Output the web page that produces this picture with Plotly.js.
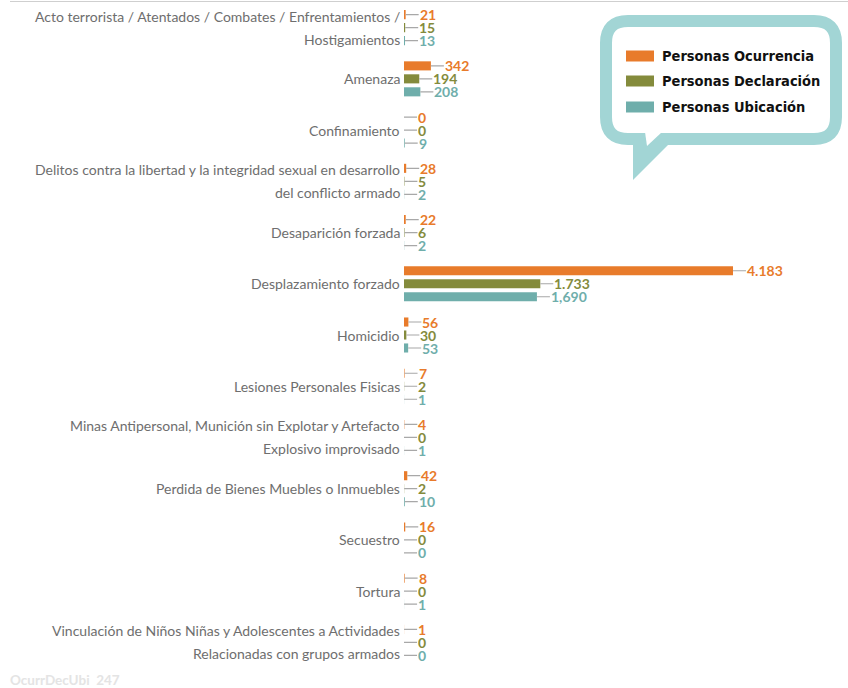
<!DOCTYPE html>
<html><head><meta charset="utf-8">
<script src="https://cdn.plot.ly/plotly-3.0.1.min.js"></script>
<style>html,body{margin:0;padding:0;background:#fff}</style>
</head><body><div id="chart" style="width:848px;height:688px"></div>
<script>
const categories = [
 "Acto terrorista / Atentados / Combates / Enfrentamientos /<br>Hostigamientos",
 "Amenaza",
 "Confinamiento",
 "Delitos contra la libertad y la integridad sexual en desarrollo<br>del conflicto armado",
 "Desaparición forzada",
 "Desplazamiento forzado",
 "Homicidio",
 "Lesiones Personales Fisicas",
 "Minas Antipersonal, Munición sin Explotar y Artefacto<br>Explosivo improvisado",
 "Perdida de Bienes Muebles o Inmuebles",
 "Secuestro",
 "Tortura",
 "Vinculación de Niños Niñas y Adolescentes a Actividades<br>Relacionadas con grupos armados"
];
const seriesNames = ["Personas Ocurrencia", "Personas Declaración", "Personas Ubicación"];
const ocurrencia  = [21, 342, 0, 28, 22, 4183, 56, 7, 4, 42, 16, 8, 1];
const declaracion = [15, 194, 0, 5, 6, 1733, 30, 2, 0, 2, 0, 0, 0];
const ubicacion   = [13, 208, 9, 2, 2, 1690, 53, 1, 1, 10, 0, 1, 0];
const thousandSep = [".", ".", ","];
const footerText = "OcurrDecUbi  247";

const colors = ["#E87B2B", "#848B3C", "#6FAEAB"];
const seriesValues = [ocurrencia, declaracion, ubicacion];

const W = 848, H = 688, ML = 404, MR = 0, MT = 2, MB = 20;
const px = x => (x - ML) / (W - ML - MR);
const py = y => (H - MB - y) / (H - MT - MB);

function fmt(v, sep) {
  const s = String(v);
  return s.replace(/\B(?=(\d{3})+(?!\d))/g, sep);
}

const traces = seriesValues.map((vals, i) => ({
  type: 'bar', orientation: 'h', name: seriesNames[i],
  y: categories, x: vals,
  marker: {color: colors[i]},
  hoverinfo: 'x+name', showlegend: false
}));

const labelFont = {family: 'Lato, "Open Sans", sans-serif', size: 14, color: '#6e6e6e'};
const annotations = [];
// category labels
categories.forEach(c => {
  const parts = c.split("<br>");
  if (parts.length === 1) {
    annotations.push({xref: 'x', yref: 'y', x: 0, y: c, text: parts[0], showarrow: false,
      xanchor: 'right', yanchor: 'middle', xshift: -2, font: labelFont});
  } else {
    parts.forEach((p, k) => {
      annotations.push({xref: 'x', yref: 'y', x: 0, y: c, text: p, showarrow: false,
        xanchor: 'right', yanchor: 'middle', xshift: -2, yshift: k === 0 ? 11.5 : -11.5,
        font: labelFont});
    });
  }
});
// value labels with leader lines
seriesValues.forEach((vals, i) => {
  vals.forEach((v, j) => {
    annotations.push({xref: 'x', yref: 'y', x: v, y: categories[j], yshift: (1 - i) * 13,
      text: '<b>' + fmt(v, thousandSep[i]) + '</b>', showarrow: true, arrowhead: 0,
      arrowwidth: 1.2, arrowcolor: '#a8a8a8', ax: 13, ay: 0, standoff: 0,
      xanchor: 'left', yanchor: 'middle', borderpad: 0,
      font: {family: 'Lato, "Open Sans", sans-serif', size: 14, color: colors[i]}});
  });
});
// legend text
const legY = [56, 81, 107];
seriesNames.forEach((n, i) => {
  annotations.push({xref: 'paper', yref: 'paper', x: px(660), y: py(legY[i]), text: '<b>' + n + '</b>',
    showarrow: false, xanchor: 'left', yanchor: 'middle',
    font: {family: '"DejaVu Sans Condensed", "Liberation Sans Narrow", sans-serif', size: 14.5, color: '#111'}});
});
annotations.push({xref: 'paper', yref: 'paper', x: px(8), y: py(680), text: '<b>' + footerText + '</b>',
  showarrow: false, xanchor: 'left', yanchor: 'middle',
  font: {family: 'Lato, sans-serif', size: 13.5, color: '#e4e4e4'}});

// bubble path
const x0 = 606, x1 = 836, y0 = 21, y1 = 139, r = 22;
const P = (x, y) => px(x) + ',' + py(y);
const bubble = 'M' + P(x0 + r, y0) + ' L' + P(x1 - r, y0) +
  ' Q' + P(x1, y0) + ' ' + P(x1, y0 + r) + ' L' + P(x1, y1 - r) +
  ' Q' + P(x1, y1) + ' ' + P(x1 - r, y1) + ' L' + P(x0 + r, y1) +
  ' Q' + P(x0, y1) + ' ' + P(x0, y1 - r) + ' L' + P(x0, y0 + r) +
  ' Q' + P(x0, y0) + ' ' + P(x0 + r, y0) + ' Z';
const teal = '#A2D5D5';
const shapes = [
  {type: 'line', xref: 'paper', yref: 'paper', x0: px(10), x1: px(848), y0: py(1.5), y1: py(1.5),
   line: {color: '#cfcfcf', width: 1}},
  {type: 'path', xref: 'paper', yref: 'paper', path: bubble, fillcolor: '#fff', line: {color: teal, width: 12}, layer: 'above'},
  {type: 'path', xref: 'paper', yref: 'paper', path: 'M' + P(633, 140) + ' L' + P(633, 180) + ' L' + P(668, 145) + ' L' + P(668, 140) + ' Z',
   fillcolor: teal, line: {width: 0}, layer: 'above'},
  {type: 'path', xref: 'paper', yref: 'paper', path: 'M' + P(645, 132) + ' L' + P(647, 146) + ' L' + P(662, 132) + ' Z',
   fillcolor: '#fff', line: {width: 0}, layer: 'above'}
];
legY.forEach((yy, i) => {
  shapes.push({type: 'rect', xref: 'paper', yref: 'paper', x0: px(626), x1: px(654), y0: py(yy - 5.5), y1: py(yy + 5.5),
    fillcolor: colors[i], line: {width: 0}, layer: 'above'});
});

const layout = {
  width: W, height: H,
  margin: {l: ML, r: MR, t: MT, b: MB, pad: 0},
  paper_bgcolor: '#fff', plot_bgcolor: '#fff',
  barmode: 'group', bargap: 0.24, bargroupgap: 0.3,
  xaxis: {range: [0, 5645], visible: false, fixedrange: true},
  yaxis: {type: 'category', autorange: 'reversed', showticklabels: false, showgrid: false,
          zeroline: false, showline: false, ticks: '', fixedrange: true},
  annotations: annotations, shapes: shapes, showlegend: false
};
Plotly.newPlot('chart', traces, layout, {displayModeBar: false, staticPlot: true});
</script>
</body></html>
